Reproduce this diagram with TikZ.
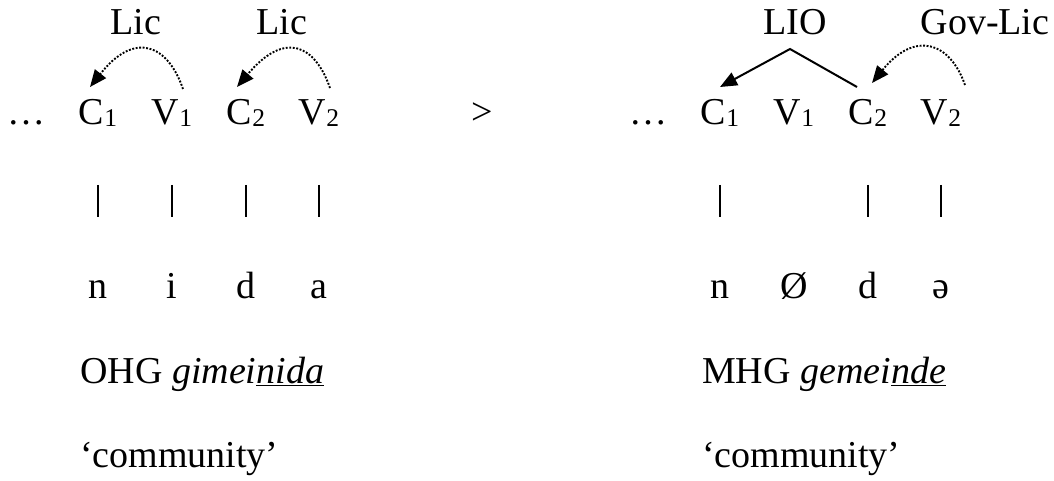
\documentclass[tikz,border=0pt]{standalone}
\usepackage{fontspec}
\setmainfont{Liberation Serif}
\usetikzlibrary{arrows.meta,calc}
\newcommand\mysub[1]{\raisebox{-2pt}{\fontsize{25.5}{25.5}\selectfont #1}}
\begin{document}
\begin{tikzpicture}[x=1pt,y=-1pt,
  txt/.style={font=\fontsize{38}{45}\selectfont, inner sep=0pt, anchor=base},
  lab/.style={txt, anchor=base west},
  lic/.style={line width=1.9pt, dash pattern=on 1.9pt off 1.6pt, -{Triangle[length=17pt,width=14pt]}},
  lio/.style={line width=2pt, -{Triangle[length=17pt,width=14pt]}},
  assoc/.style={line width=1.5pt, shorten <=60pt, shorten >=81pt}]
\useasboundingbox (0,0) rectangle (1054,481);
% left side
\node[txt] (lic1) at (136,35) {Lic};
\node[txt] (lic2) at (282,35) {Lic};
\node[txt] (dotsL) at (27,125) {…};
\node[txt] (C1L) at (98,125) {C\mysub{1}};
\node[txt] (V1L) at (172,125) {V\mysub{1}};
\node[txt] (C2L) at (246,125) {C\mysub{2}};
\node[txt] (V2L) at (319,125) {V\mysub{2}};
\node[txt] (n1L) at (98,298) {n};
\node[txt] (n2L) at (172,298) {i};
\node[txt] (n3L) at (246,298) {d};
\node[txt] (n4L) at (319,298) {a};
\draw[assoc] (C1L.base) -- (n1L.base);
\draw[assoc] (V1L.base) -- (n2L.base);
\draw[assoc] (C2L.base) -- (n3L.base);
\draw[assoc] (V2L.base) -- (n4L.base);
\draw[lic] ($(V1L.base)+(11,-36)$) .. controls ($(V1L.base)+(-4,-80)$) and ($(C1L.base)+(37,-95)$) .. ($(C1L.base)+(-8,-38)$);
\draw[lic] ($(V2L.base)+(11,-37)$) .. controls ($(V2L.base)+(-4,-80)$) and ($(C2L.base)+(39,-95)$) .. ($(C2L.base)+(-9,-38)$);
\node[lab] (ohg) at (80,383) {OHG \textit{gimei\underline{nida}}};
\node[lab] (glossL) at (80,467) {‘community’};
% middle
\node[txt] (gt) at (482,125) {>};
% right side
\node[txt] (lio) at (795,35) {LIO};
\node[txt] (govlic) at (985,35) {Gov-Lic};
\node[txt] (dotsR) at (648,125) {…};
\node[txt] (C1R) at (720,125) {C\mysub{1}};
\node[txt] (V1R) at (794,125) {V\mysub{1}};
\node[txt] (C2R) at (868,125) {C\mysub{2}};
\node[txt] (V2R) at (941,125) {V\mysub{2}};
\node[txt] (n1R) at (720,298) {n};
\node[txt] (n2R) at (794,298) {Ø};
\node[txt] (n3R) at (868,298) {d};
\node[txt] (n4R) at (941,298) {ə};
\draw[assoc] (C1R.base) -- (n1R.base);
\draw[assoc] (C2R.base) -- (n3R.base);
\draw[assoc] (V2R.base) -- (n4R.base);
\draw[lio] ($(C2R.base)+(-11,-38)$) -- ($(lio.base)+(-5,14)$) -- ($(C1R.base)+(0,-38)$);
\draw[lic] ($(V2R.base)+(24,-40)$) .. controls ($(V2R.base)+(9,-83)$) and ($(C2R.base)+(47,-95)$) .. ($(C2R.base)+(4,-42)$);
\node[lab] (mhg) at (702,383) {MHG \textit{gemei\underline{nde}}};
\node[lab] (glossR) at (702,467) {‘community’};
\end{tikzpicture}
\end{document}
